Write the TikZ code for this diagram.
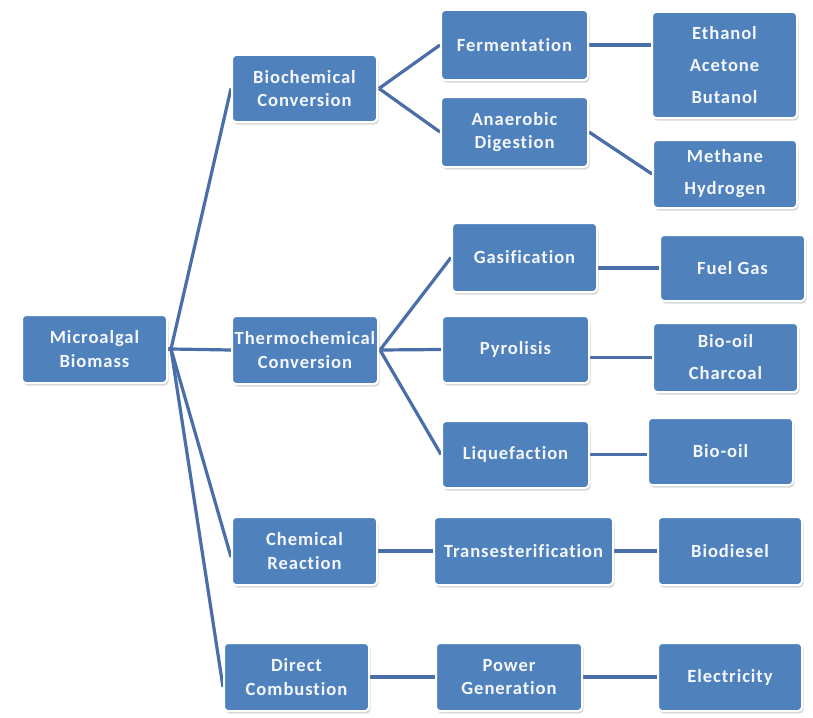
\documentclass[tikz,border=0pt]{standalone}
\usepackage{fontspec}
\setmainfont{Carlito}
\newfontfamily\boxfont[LetterSpace=5,Ligatures={NoCommon}]{Carlito}
\usetikzlibrary{shadows,backgrounds}
\definecolor{boxblue}{HTML}{4F81BD}
\definecolor{linkblue}{HTML}{4A6EA8}
\definecolor{txtwhite}{HTML}{F4F7FC}
\tikzset{
  box/.style={rectangle, rounded corners=4pt, fill=boxblue, draw=white, line width=2pt,
    inner sep=0pt, align=center, text=txtwhite,
    font=\boxfont\bfseries\fontsize{18.6}{23.5}\selectfont,
    drop shadow={opacity=0.22, shadow xshift=1.5pt, shadow yshift=-2.5pt, fill=black!70}},
  prod/.style={box, font=\boxfont\bfseries\fontsize{18.6}{32}\selectfont},
  link/.style={draw=linkblue, line width=3.2pt}
}
\begin{document}
\begin{tikzpicture}[x=1pt,y=-1pt]
\useasboundingbox (0,0) rectangle (813,717);
% level 1
\node[box, minimum width=145pt, minimum height=68pt] (micro) at (94.5,349) {Microalgal\\Biomass};
% level 2
\node[box, minimum width=145pt, minimum height=67pt] (bio) at (304.5,88.5) {Biochemical\\Conversion};
\node[box, minimum width=146pt, minimum height=68pt] (thermo) at (305,350) {Thermochemical\\Conversion};
\node[box, minimum width=145pt, minimum height=68pt] (chem) at (304.5,551) {Chemical\\Reaction};
\node[box, minimum width=145pt, minimum height=68pt] (direct) at (296.5,677) {Direct\\Combustion};
% level 3
\node[box, minimum width=147pt, minimum height=70pt] (ferm) at (514.5,45) {Fermentation};
\node[box, minimum width=147pt, minimum height=70pt] (anae) at (514.5,132) {Anaerobic\\Digestion};
\node[box, minimum width=145pt, minimum height=69pt] (gas) at (524.5,257.5) {Gasification};
\node[box, minimum width=147pt, minimum height=67pt] (pyro) at (515.5,349.5) {Pyrolisis};
\node[box, minimum width=147pt, minimum height=67pt] (liq) at (515.5,454.5) {Liquefaction};
\node[box, minimum width=179pt, minimum height=68pt] (trans) at (523.5,551) {Transesterification};
\node[box, minimum width=146pt, minimum height=68pt] (power) at (509,677) {Power\\Generation};
% level 4
\node[prod, minimum width=145pt, minimum height=106pt] (eth) at (724.5,65) {Ethanol\\Acetone\\Butanol};
\node[prod, minimum width=144pt, minimum height=68pt] (meth) at (725,174) {Methane\\Hydrogen};
\node[box, minimum width=145pt, minimum height=66pt] (fuel) at (732.5,268) {Fuel Gas};
\node[prod, minimum width=145pt, minimum height=69pt] (bioch) at (725.5,357.5) {Bio-oil\\Charcoal};
\node[box, minimum width=145pt, minimum height=67pt] (biooil) at (720.5,451.5) {Bio-oil};
\node[box, minimum width=144pt, minimum height=68pt] (biod) at (730,551) {Biodiesel};
\node[box, minimum width=144pt, minimum height=68pt] (elec) at (730,677) {Electricity};
\begin{scope}[on background layer]
\fill[white] (0,0) rectangle (813,717);
\coordinate (f1) at (171,349);
\coordinate (f2) at (380,350);
\coordinate (f3) at (379,88.5);
\draw[link] (micro.east) -- (f1);
\draw[link] (f1) -- (bio.west);
\draw[link] (f1) -- (thermo.west);
\draw[link] (f1) -- ([yshift=-6pt]chem.west);
\draw[link] (f1) -- ([yshift=-10pt]direct.west);
\draw[link] (f3) -- (ferm.west);
\draw[link] (f3) -- (anae.west);
\draw[link] (f2) -- (gas.west);
\draw[link] (f2) -- (pyro.west);
\draw[link] (f2) -- (liq.west);
\draw[link] (ferm.east) -- (ferm.east -| eth.west);
\draw[link] (anae.east) -- (meth.west);
\draw[link] (gas.east |- fuel.west) -- (fuel.west);
\draw[link] (pyro.east |- bioch.west) -- (bioch.west);
\draw[link] (liq.east) -- (liq.east -| biooil.west);
\draw[link] (chem.east) -- (trans.west);
\draw[link] (trans.east) -- (biod.west);
\draw[link] (direct.east) -- (power.west);
\draw[link] (power.east) -- (elec.west);
\end{scope}
\end{tikzpicture}
\end{document}
